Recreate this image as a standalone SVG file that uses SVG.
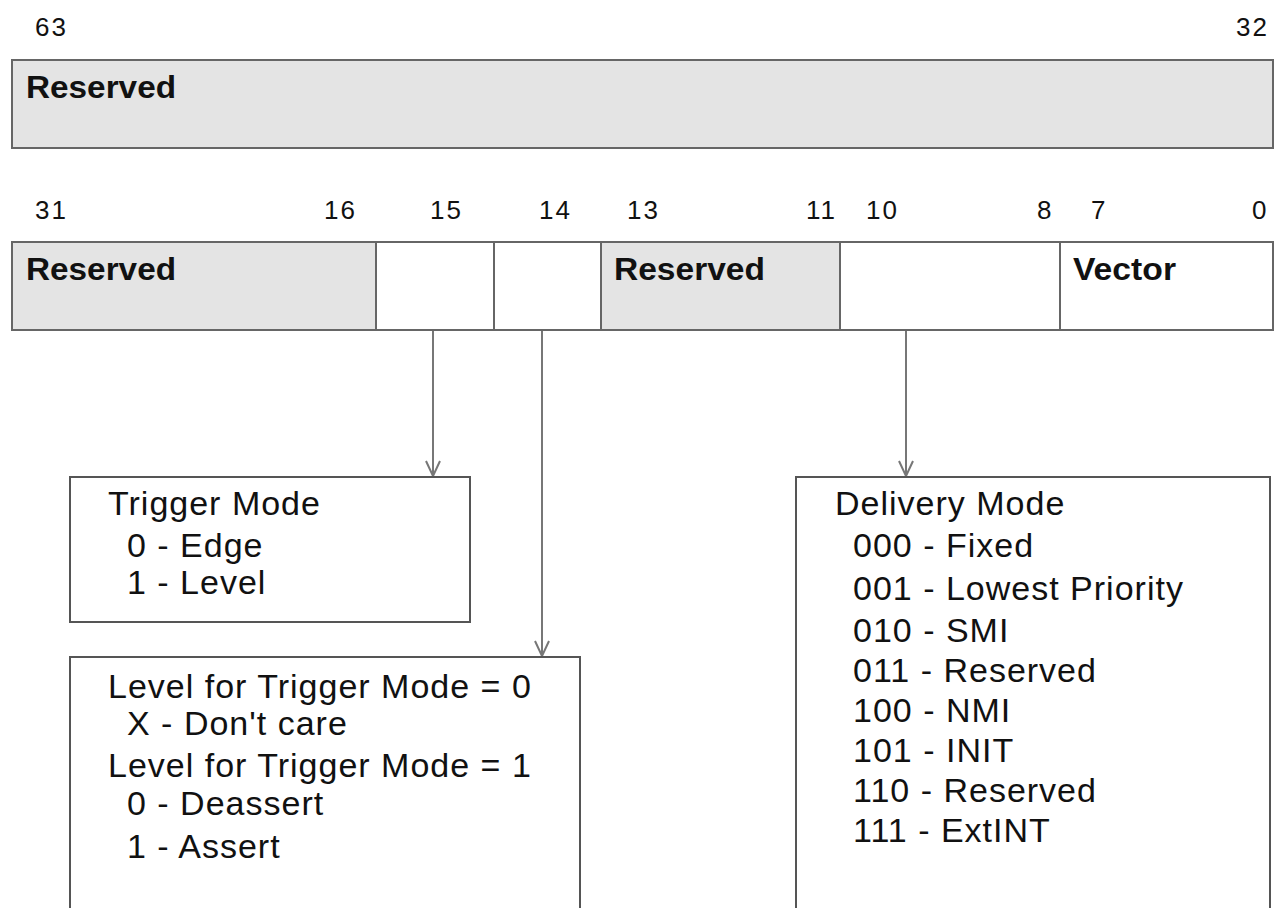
<svg xmlns="http://www.w3.org/2000/svg" width="1274" height="908" viewBox="0 0 1274 908">
<style>
.num{font-family:"Liberation Sans",Arial,sans-serif;font-size:26px;letter-spacing:2px;fill:#111}
.fld{font-family:"Liberation Sans",Arial,sans-serif;font-weight:bold;font-size:32px;fill:#111}
.txt{font-family:"Liberation Sans",Arial,sans-serif;font-size:34px;letter-spacing:1px;fill:#111}
.res{fill:#e4e4e4;stroke:#666;stroke-width:2}
.cell{fill:#fff;stroke:#666;stroke-width:2}
.box{fill:#fff;stroke:#555;stroke-width:2}
.conn{stroke:#777;stroke-width:2;fill:none}
</style>
<defs>
<marker id="arr" markerWidth="18" markerHeight="16" refX="16" refY="8" orient="auto" markerUnits="userSpaceOnUse" viewBox="0 0 18 16">
<path d="M1,1 L16,8 L1,15" fill="none" stroke="#777" stroke-width="2"/>
</marker>
</defs>
<rect width="1274" height="908" fill="#fff"/>
<g id="bits-high">
<text class="num" x="35" y="36">63</text>
<text class="num" x="1236" y="36">32</text>
<rect class="res" x="12" y="60" width="1261" height="88"/>
<text class="fld" x="26" y="98" textLength="150" lengthAdjust="spacingAndGlyphs">Reserved</text>
</g>
<g id="bits-low-labels">
<text class="num" x="35" y="219">31</text>
<text class="num" x="324" y="219">16</text>
<text class="num" x="430" y="219">15</text>
<text class="num" x="539" y="219">14</text>
<text class="num" x="627" y="219">13</text>
<text class="num" x="806" y="219">11</text>
<text class="num" x="866" y="219">10</text>
<text class="num" x="1037" y="219">8</text>
<text class="num" x="1091" y="219">7</text>
<text class="num" x="1252" y="219">0</text>
</g>
<g id="field-reserved-31-16">
<rect class="res" x="12" y="242" width="364" height="88"/>
<text class="fld" x="26" y="280" textLength="150" lengthAdjust="spacingAndGlyphs">Reserved</text>
</g>
<g id="field-15"><rect class="cell" x="376" y="242" width="118" height="88"/></g>
<g id="field-14"><rect class="cell" x="494" y="242" width="107" height="88"/></g>
<g id="field-reserved-13-11">
<rect class="res" x="601" y="242" width="239" height="88"/>
<text class="fld" x="614" y="280" textLength="151" lengthAdjust="spacingAndGlyphs">Reserved</text>
</g>
<g id="field-10-8"><rect class="cell" x="840" y="242" width="220" height="88"/></g>
<g id="field-vector">
<rect class="cell" x="1060" y="242" width="213" height="88"/>
<text class="fld" x="1073" y="280" textLength="103" lengthAdjust="spacingAndGlyphs">Vector</text>
</g>
<g id="connectors">
<line class="conn" x1="433" y1="331" x2="433" y2="476" marker-end="url(#arr)"/>
<line class="conn" x1="542" y1="331" x2="542" y2="656" marker-end="url(#arr)"/>
<line class="conn" x1="906" y1="331" x2="906" y2="476" marker-end="url(#arr)"/>
</g>
<g id="trigger-mode">
<rect class="box" x="70" y="477" width="400" height="145"/>
<text class="txt" x="108" y="515">Trigger Mode</text>
<text class="txt" x="127" y="557">0 - Edge</text>
<text class="txt" x="127" y="594">1 - Level</text>
</g>
<g id="level">
<path class="box" d="M70,910 L70,657 L580,657 L580,910"/>
<text class="txt" x="108" y="698">Level for Trigger Mode = 0</text>
<text class="txt" x="127" y="735">X - Don't care</text>
<text class="txt" x="108" y="777">Level for Trigger Mode = 1</text>
<text class="txt" x="127" y="815">0 - Deassert</text>
<text class="txt" x="127" y="858">1 - Assert</text>
</g>
<g id="delivery-mode">
<path class="box" d="M796,910 L796,477 L1270,477 L1270,910"/>
<text class="txt" x="835" y="515">Delivery Mode</text>
<text class="txt" x="853" y="557">000 - Fixed</text>
<text class="txt" x="853" y="600">001 - Lowest Priority</text>
<text class="txt" x="853" y="642">010 - SMI</text>
<text class="txt" x="853" y="682">011 - Reserved</text>
<text class="txt" x="853" y="722">100 - NMI</text>
<text class="txt" x="853" y="762">101 - INIT</text>
<text class="txt" x="853" y="802">110 - Reserved</text>
<text class="txt" x="853" y="842">111 - ExtINT</text>
</g>
</svg>
